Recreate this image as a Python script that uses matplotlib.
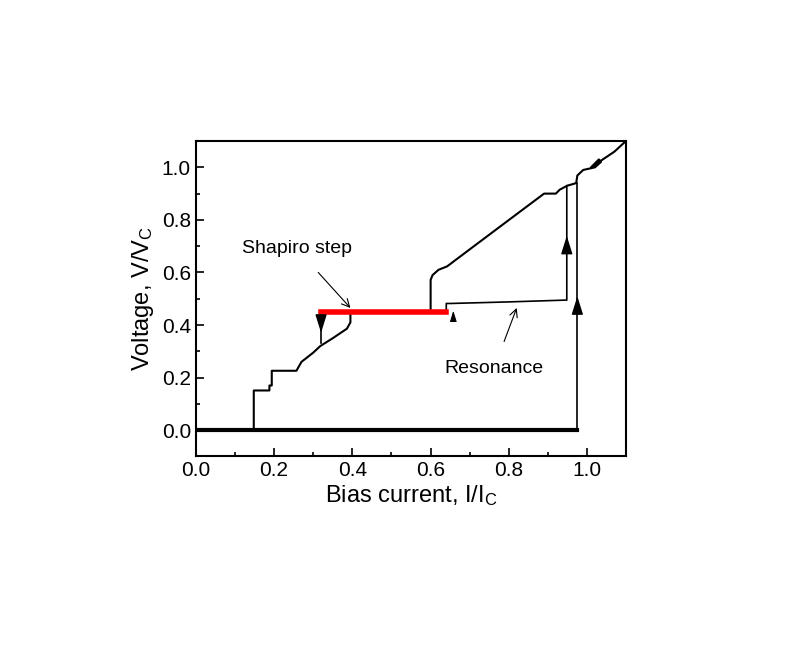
import numpy as np
import matplotlib.pyplot as plt
from matplotlib.ticker import MultipleLocator

plt.rcParams['font.family'] = ['Liberation Sans', 'DejaVu Sans']
plt.rcParams['mathtext.fontset'] = 'custom'
plt.rcParams['mathtext.rm'] = 'Liberation Serif'

# upper branch (I/Ic, V/Vc)
up_x = [0.0, 0.148, 0.148, 0.188, 0.188, 0.194, 0.194, 0.257, 0.27, 0.30, 0.318, 0.35, 0.386, 0.395, 0.395]
up_y = [0.0, 0.0, 0.151, 0.151, 0.17, 0.17, 0.226, 0.226, 0.26, 0.295, 0.32, 0.35, 0.386, 0.41, 0.45]
hi_x = [0.60, 0.60, 0.605, 0.62, 0.642, 0.70, 0.76, 0.82, 0.89, 0.92, 0.93, 0.949, 0.972, 0.975, 0.99, 1.02, 1.035, 1.03, 1.01, 1.04, 1.07, 1.099]
hi_y = [0.45, 0.572, 0.59, 0.61, 0.623, 0.688, 0.755, 0.822, 0.90, 0.90, 0.915, 0.93, 0.94, 0.969, 0.99, 1.0, 1.02, 1.03, 1.0, 1.03, 1.06, 1.1]
# resonance branch
res_x = [0.64, 0.64, 0.65, 0.80, 0.948, 0.948]
res_y = [0.45, 0.482, 0.482, 0.488, 0.495, 0.93]
# shapiro step
step_x = [0.32, 0.64]
step_y = [0.45, 0.45]
jump_x = [0.975, 0.975]
jump_y = [0.0, 0.94]

fig = plt.figure(figsize=(8.06, 6.53), dpi=100)
ax = fig.add_axes([0.243, 0.301, 0.534, 0.483])

ax.plot([0, 0.975], [0, 0], color='black', lw=3)
ax.plot(up_x, up_y, color='black', lw=1.5)
ax.plot(hi_x, hi_y, color='black', lw=1.5)
ax.plot(res_x, res_y, color='black', lw=1.2)
ax.plot(jump_x, jump_y, color='black', lw=1.2)
ax.plot([0.32, 0.32], [0.45, 0.33], color='black', lw=1.2)
ax.plot(step_x, step_y, color='red', lw=4)

arr = dict(arrowstyle='-|>,head_width=0.25,head_length=0.8', color='black', lw=1, mutation_scale=14)
ax.annotate('', xy=(0.32, 0.36), xytext=(0.32, 0.42), arrowprops=arr)
ax.annotate('', xy=(0.948, 0.75), xytext=(0.948, 0.68), arrowprops=arr)
ax.annotate('', xy=(0.975, 0.52), xytext=(0.975, 0.45), arrowprops=arr)
ax.annotate('', xy=(0.658, 0.465), xytext=(0.658, 0.42),
            arrowprops=dict(arrowstyle='-|>,head_width=0.25,head_length=0.8',
                            color='black', lw=0.8, mutation_scale=8))

ax.annotate('Shapiro step', xy=(0.395, 0.465), xytext=(0.258, 0.69),
            ha='center', va='center', fontsize=14,
            arrowprops=dict(arrowstyle='->', color='black', lw=0.8,
                            shrinkA=12, shrinkB=0))
ax.annotate('Resonance', xy=(0.82, 0.465), xytext=(0.762, 0.235),
            ha='center', va='center', fontsize=14,
            arrowprops=dict(arrowstyle='->', color='black', lw=0.8,
                            shrinkA=12, shrinkB=0))

ax.set_xlim(0, 1.1)
ax.set_ylim(-0.1, 1.1)
ax.xaxis.set_major_locator(MultipleLocator(0.2))
ax.xaxis.set_minor_locator(MultipleLocator(0.1))
ax.yaxis.set_major_locator(MultipleLocator(0.2))
ax.yaxis.set_minor_locator(MultipleLocator(0.1))
ax.tick_params(direction='in', which='both', labelsize=15, width=1.2)
ax.tick_params(which='major', length=6)
ax.tick_params(which='minor', length=3)
for s in ax.spines.values():
    s.set_linewidth(1.5)

ax.set_xlabel(r'Bias current, $\mathregular{I/I_C}$', fontsize=17, labelpad=2)
ax.set_ylabel(r'Voltage, $\mathregular{V/V_C}$', fontsize=17, labelpad=4)

fig.savefig('out.png', dpi=100)
